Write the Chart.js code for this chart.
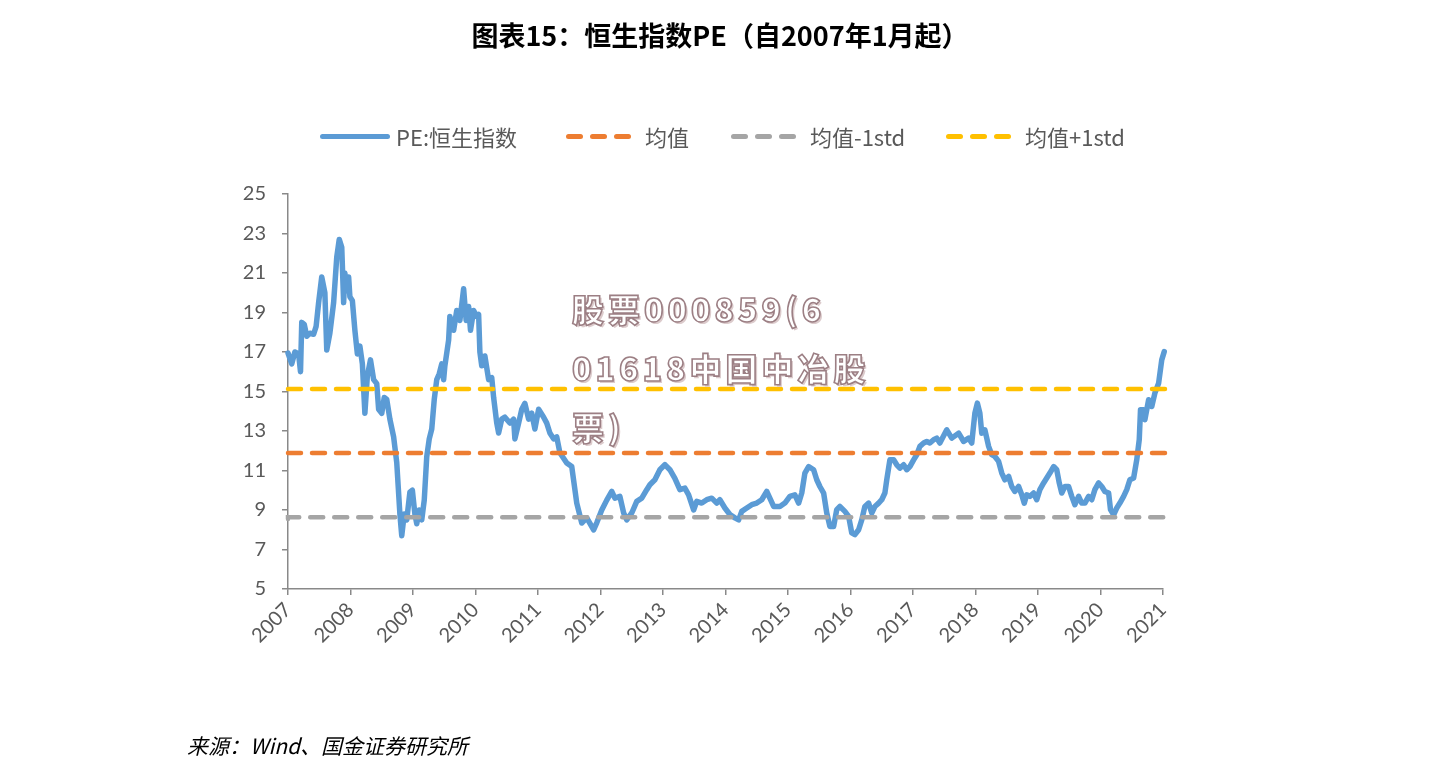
<!DOCTYPE html>
<html>
<head>
<meta charset="utf-8">
<script src="https://cdn.jsdelivr.net/npm/chart.js@4.4.0/dist/chart.umd.min.js"></script>
<style>
  html, body { margin: 0; padding: 0; background: #fff; }
  #pagina { position: relative; width: 1440px; height: 776px; overflow: hidden; font-family: "Noto Sans CJK SC", sans-serif; }
  #grafico { position: absolute; left: 0; top: 0; }
  #titulo { position: absolute; left: 0; top: 16px; width: 1440px; text-align: center; font-size: 27px; font-weight: bold; line-height: 38px; color: #000; }
  .item { position: absolute; top: 122px; height: 28px; display: flex; align-items: center; font-size: 22px; color: #595959; white-space: nowrap; }
  .linea { width: 70px; height: 5px; border-radius: 3px; margin-right: 6px; }
  .puntos { display: flex; margin-right: 14px; }
  .puntos span { width: 17px; height: 5px; border-radius: 3px; margin-right: 7px; }
  .puntos span:last-child { margin-right: 0; }
  #marca { position: absolute; left: 572px; top: 279px; font-size: 32px; line-height: 59px; font-weight: 900; color: #fff;
           -webkit-text-stroke: 1.6px #9c7f84; text-shadow: 2px 2px 0 #dccbcc; letter-spacing: 4px; pointer-events: none; }
  #fuente { position: absolute; left: 187px; top: 730px; font-size: 21px; font-style: italic; color: #000; }
</style>
</head>
<body>
<div id="pagina">
  <canvas id="grafico" width="1440" height="776"></canvas>
  <div id="titulo">图表15：恒生指数PE（自2007年1月起）</div>
  <div class="item" style="left:320px"><div class="linea" style="background:#5B9BD5"></div><span class="txt"></span></div>
  <div class="item" style="left:566px"><div class="puntos"><span style="background:#ED7D31"></span><span style="background:#ED7D31"></span><span style="background:#ED7D31"></span></div><span class="txt"></span></div>
  <div class="item" style="left:731px"><div class="puntos"><span style="background:#A5A5A5"></span><span style="background:#A5A5A5"></span><span style="background:#A5A5A5"></span></div><span class="txt"></span></div>
  <div class="item" style="left:946px"><div class="puntos"><span style="background:#FFC000"></span><span style="background:#FFC000"></span><span style="background:#FFC000"></span></div><span class="txt"></span></div>
  <div id="marca">股票000859(6<br>01618中国中冶股<br>票)</div>
  <div id="fuente">来源：Wind、国金证券研究所</div>
</div>
<script>
// nombres de las series
const seriesNames = ["PE:恒生指数", "均值", "均值-1std", "均值+1std"];

// PE del Hang Seng (año decimal / valor)
const peYears = [
  2007.00, 2007.06, 2007.11, 2007.17, 2007.20, 2007.22, 2007.26, 2007.30, 2007.35, 2007.41,
  2007.45, 2007.49, 2007.54, 2007.59, 2007.62, 2007.67, 2007.73, 2007.78, 2007.82, 2007.86,
  2007.89, 2007.91, 2007.94, 2007.97, 2007.99, 2008.03, 2008.07, 2008.11, 2008.15, 2008.19,
  2008.23, 2008.27, 2008.32, 2008.37, 2008.42, 2008.45, 2008.50, 2008.54, 2008.58, 2008.63,
  2008.69, 2008.74, 2008.79, 2008.82, 2008.86, 2008.90, 2008.95, 2008.99, 2009.03, 2009.06,
  2009.10, 2009.14, 2009.18, 2009.22, 2009.26, 2009.30, 2009.34, 2009.38, 2009.42, 2009.46,
  2009.49, 2009.51, 2009.57, 2009.59, 2009.65, 2009.70, 2009.75, 2009.81, 2009.85, 2009.89,
  2009.92, 2009.97, 2010.02, 2010.05, 2010.07, 2010.10, 2010.15, 2010.21, 2010.26, 2010.29,
  2010.34, 2010.37, 2010.42, 2010.47, 2010.55, 2010.61, 2010.63, 2010.69, 2010.74, 2010.79,
  2010.85, 2010.90, 2010.95, 2011.01, 2011.09, 2011.14, 2011.19, 2011.25, 2011.30,
  2011.35, 2011.46, 2011.54, 2011.62, 2011.70, 2011.78, 2011.89, 2011.94, 2012.02, 2012.10,
  2012.18, 2012.23, 2012.31, 2012.37, 2012.42, 2012.50, 2012.58, 2012.66, 2012.74, 2012.79,
  2012.87, 2012.95, 2013.03, 2013.11, 2013.19, 2013.27, 2013.35, 2013.41, 2013.49, 2013.54,
  2013.62, 2013.70, 2013.78, 2013.86, 2013.91, 2013.99, 2014.07, 2014.15, 2014.21, 2014.26,
  2014.34, 2014.42, 2014.50, 2014.58, 2014.66, 2014.77,
  2014.87, 2014.95, 2015.03, 2015.11, 2015.17, 2015.22, 2015.27, 2015.33, 2015.41, 2015.46,
  2015.51, 2015.57, 2015.62, 2015.67, 2015.73, 2015.78, 2015.83, 2015.91, 2015.97, 2016.02,
  2016.07, 2016.13, 2016.18, 2016.23, 2016.29, 2016.34, 2016.39, 2016.45, 2016.50, 2016.55,
  2016.58, 2016.63, 2016.69, 2016.74, 2016.79, 2016.85, 2016.90, 2016.95, 2017.01, 2017.06,
  2017.11, 2017.17, 2017.22, 2017.27, 2017.33, 2017.38, 2017.43,
  2017.54, 2017.62, 2017.73, 2017.81, 2017.89, 2017.94, 2017.99, 2018.03, 2018.07, 2018.10,
  2018.15, 2018.21, 2018.26, 2018.31, 2018.37, 2018.42, 2018.47, 2018.53, 2018.58, 2018.63,
  2018.69, 2018.74, 2018.78, 2018.82, 2018.87, 2018.93, 2018.98, 2019.03, 2019.09, 2019.14,
  2019.19, 2019.25, 2019.30, 2019.34, 2019.38, 2019.43, 2019.49, 2019.54, 2019.59, 2019.65,
  2019.70, 2019.75, 2019.81, 2019.86, 2019.91, 2019.97, 2020.02, 2020.07, 2020.13, 2020.16,
  2020.21, 2020.26, 2020.31, 2020.37, 2020.42, 2020.47, 2020.53, 2020.58, 2020.62, 2020.64,
  2020.69, 2020.71, 2020.77, 2020.82, 2020.87, 2020.93, 2020.98, 2021.02, 2021.06
];
const peValues = [
  16.95, 16.4, 17.0, 16.9, 16.0, 18.5, 18.4, 17.8, 17.95, 17.9,
  18.3, 19.5, 20.8, 20.0, 17.1, 17.95, 19.5, 21.8, 22.7, 22.3,
  19.5, 21.0, 20.1, 20.8, 19.8, 19.6, 18.1, 16.9, 17.3, 16.4,
  13.9, 15.8, 16.6, 15.6, 15.4, 14.1, 13.9, 14.7, 14.6, 13.6,
  12.7, 11.4, 8.8, 7.7, 8.8, 8.5, 9.9, 10.0, 8.8, 8.3,
  9.0, 8.5, 9.5, 11.7, 12.6, 13.1, 14.6, 15.6, 15.9, 16.4,
  15.6, 16.3, 17.6, 18.8, 18.1, 19.1, 18.6, 20.2, 18.6, 19.3,
  18.1, 19.1, 18.8, 18.9, 17.0, 16.3, 16.8, 15.6, 15.7, 14.7,
  13.4, 12.9, 13.6, 13.7, 13.4, 13.6, 12.6, 13.4, 14.1, 14.4,
  13.6, 13.9, 13.1, 14.1, 13.7, 13.4, 12.9, 12.6, 12.7,
  11.9, 11.38, 11.2, 9.35, 8.34, 8.6, 8.0, 8.35, 9.0, 9.5,
  9.94, 9.6, 9.69, 8.85, 8.5, 8.85, 9.44, 9.6, 10.03, 10.28,
  10.53, 11.04, 11.3, 11.04, 10.6, 10.03, 10.11, 9.77, 9.0, 9.44,
  9.35, 9.52, 9.6, 9.35, 9.52, 9.1, 8.77, 8.6, 8.5, 8.93,
  9.1, 9.27, 9.35, 9.52, 9.94, 9.18,
  9.18, 9.35, 9.69, 9.77, 9.35, 9.86, 10.87, 11.2, 11.04, 10.53,
  10.19, 9.86, 8.85, 8.17, 8.17, 9.02, 9.18, 8.93, 8.68, 7.84,
  7.75, 8.0, 8.5, 9.18, 9.35, 8.85, 9.18, 9.35, 9.52, 9.86,
  10.53, 11.54, 11.54, 11.29, 11.12, 11.29, 11.04, 11.2, 11.54, 11.8,
  12.22, 12.39, 12.47, 12.39, 12.56, 12.64, 12.39,
  13.06, 12.64, 12.89, 12.47, 12.64, 12.39, 13.9, 14.41, 13.9, 12.89,
  13.06, 12.22, 11.8, 11.71, 11.46, 10.87, 10.53, 10.7, 10.19, 9.94,
  10.19, 9.77, 9.35, 9.77, 9.69, 9.86, 9.52, 10.03, 10.37, 10.62,
  10.87, 11.2, 11.04, 10.37, 9.86, 10.19, 10.19, 9.69, 9.27, 9.69,
  9.35, 9.35, 9.69, 9.52, 10.03, 10.37, 10.19, 9.94, 9.86, 9.02,
  8.76, 9.1, 9.35, 9.69, 10.03, 10.53, 10.62, 11.54, 12.56, 14.07,
  14.07, 13.57, 14.58, 14.24, 14.92, 15.42, 16.6, 17.02, 16.6
];

// media y bandas de +-1 desviación
const meanX = [2007, 2021.07];
const meanY = [11.88, 11.88];
const plusStdY = [15.13, 15.13];
const minusStdX = [2007, 2010.06, 2021.07];
const minusStdY = [8.54, 8.63, 8.63];

// ticks
const xTickLabels = ["2007", "2008", "2009", "2010", "2011", "2012", "2013", "2014",
                     "2015", "2016", "2017", "2018", "2019", "2020", "2021"];
const yTickValues = [5, 7, 9, 11, 13, 15, 17, 19, 21, 23, 25];

document.querySelectorAll(".item .txt").forEach((el, i) => { el.textContent = seriesNames[i]; });

const pares = (xs, ys) => xs.map((x, i) => ({ x: x, y: ys[i] }));

const GRIS = "#898989";
const TEXTO = "#595959";

const discontinua = (color) => ({
    borderColor: color,
    borderWidth: 4.5,
    borderDash: [13, 11],
    borderCapStyle: "round",
    pointRadius: 0,
    clip: false
});

new Chart(document.getElementById("grafico"), {
    type: "line",
    data: {
        datasets: [
            {
                label: seriesNames[0],
                data: pares(peYears, peValues),
                borderColor: "#5B9BD5",
                borderWidth: 5.5,
                borderJoinStyle: "round",
                borderCapStyle: "round",
                pointRadius: 0,
                tension: 0,
                clip: false,
                order: 9
            },
            Object.assign({ label: seriesNames[1], data: pares(meanX, meanY), order: 2 }, discontinua("#ED7D31")),
            Object.assign({ label: seriesNames[2], data: pares(minusStdX, minusStdY), stepped: "after", order: 3 }, discontinua("#A5A5A5")),
            Object.assign({ label: seriesNames[3], data: pares(meanX, plusStdY), order: 1 }, discontinua("#FFC000"))
        ]
    },
    options: {
        responsive: false,
        animation: false,
        events: [],
        layout: { padding: { left: 200, right: 277, top: 194, bottom: 107 } },
        plugins: {
            legend: { display: false },
            title: { display: false },
            tooltip: { enabled: false }
        },
        scales: {
            x: {
                type: "linear",
                min: 2007,
                max: 2021,
                afterBuildTicks: (eje) => { eje.ticks = xTickLabels.map(t => ({ value: Number(t) })); },
                afterFit: (eje) => { eje.height = 80; },
                ticks: {
                    callback: (v) => String(v),
                    autoSkip: false,
                    minRotation: 45,
                    maxRotation: 45,
                    padding: 3,
                    color: TEXTO,
                    font: { family: "Lato", size: 20 }
                },
                grid: { drawOnChartArea: false, drawTicks: true, tickLength: 6, color: GRIS, lineWidth: 1.5 },
                border: { color: GRIS, width: 1.5 }
            },
            y: {
                min: 5,
                max: 25,
                afterBuildTicks: (eje) => { eje.ticks = yTickValues.map(v => ({ value: v })); },
                afterFit: (eje) => { eje.width = 88; },
                ticks: {
                    padding: 16,
                    color: TEXTO,
                    font: { family: "Lato", size: 20 }
                },
                grid: { drawOnChartArea: false, drawTicks: true, tickLength: 6, color: GRIS, lineWidth: 1.5 },
                border: { color: GRIS, width: 1.5 }
            }
        }
    }
});
</script>
</body>
</html>
